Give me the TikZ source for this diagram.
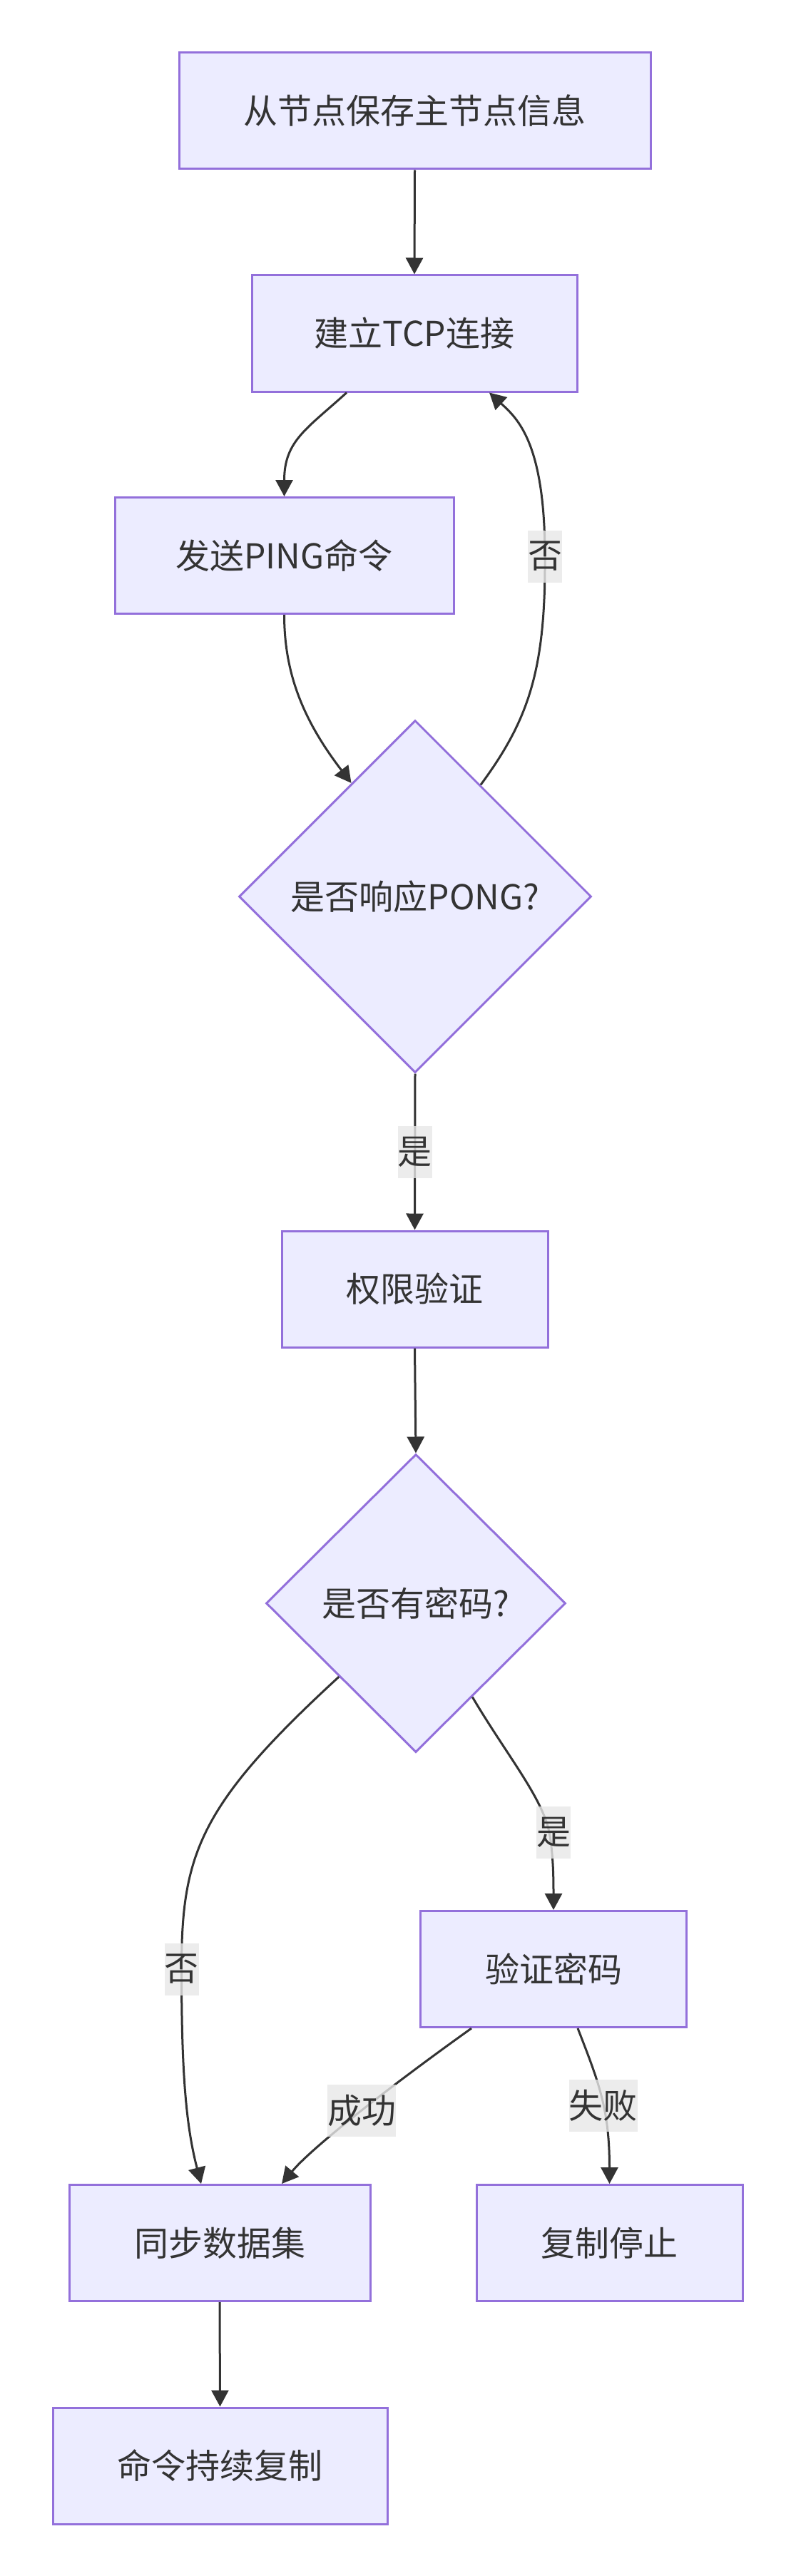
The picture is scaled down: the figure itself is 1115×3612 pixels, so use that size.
\documentclass[tikz,border=0pt]{standalone}
\usepackage{fontspec}
\setmainfont{Noto Sans CJK SC}
\usetikzlibrary{shapes.geometric,arrows.meta,calc}
\definecolor{nodefill}{HTML}{ECECFF}
\definecolor{nodeline}{HTML}{9370DB}
\definecolor{txt}{HTML}{333333}
\definecolor{lblbg}{HTML}{E8E8E8}
\begin{document}
\begin{tikzpicture}[x=0.5pt,y=-0.5pt,
  box/.style={rectangle, draw=nodeline, fill=nodefill, line width=1.5pt,
    minimum height=81.5pt, inner sep=0pt, text=txt,
    font=\fontsize{24pt}{36pt}\selectfont},
  dia/.style={diamond, draw=nodeline, fill=nodefill, line width=1.5pt,
    inner sep=0pt, text=txt, font=\fontsize{24pt}{36pt}\selectfont},
  arr/.style={draw=txt, line width=1.5pt, -{Triangle[width=12pt,length=11.5pt]}},
  elabel/.style={fill=lblbg, fill opacity=0.8, text opacity=1, text=txt,
    inner xsep=0pt, inner ysep=0pt, minimum height=36.5pt,
    font=\fontsize{24pt}{36pt}\selectfont}
]
\useasboundingbox[fill=white] (0,0) rectangle (1115,3612);

% nodes
\node[box, minimum width=330.5pt] (top) at (581.5,155.5) {从节点保存主节点信息};
\node[box, minimum width=228pt] (tcp) at (581,467.5) {建立TCP连接};
\node[box, minimum width=237.5pt] (ping) at (398.5,779) {发送PING命令};
\node[dia, minimum width=247pt, minimum height=247pt] (d1) at (582,1257) {是否响应PONG?};
\node[box, minimum width=186.5pt] (perm) at (581.5,1807.5) {权限验证};
\node[dia, minimum width=210pt, minimum height=209pt] (d2) at (583,2248) {是否有密码?};
\node[box, minimum width=186.5pt] (verify) at (776,2761) {验证密码};
\node[box, minimum width=211pt] (sync) at (308,3145) {同步数据集};
\node[box, minimum width=186.5pt] (stop) at (854.5,3145) {复制停止};
\node[box, minimum width=234.5pt] (cmd) at (308.5,3457.5) {命令持续复制};

% edge anchor points on diamonds and waypoints
\coordinate (d1a) at ($(d1.north)!0.36!(d1.west)$);
\coordinate (d1b) at ($(d1.north)!0.37!(d1.east)$);
\coordinate (d2a) at ($(d2.west)!0.49!(d2.south)$);
\coordinate (d2b) at ($(d2.south)!0.375!(d2.east)$);
\coordinate (w1) at (764,780);
\coordinate (w2) at (254.5,2761);
\coordinate (w3) at (770,2569);

% edges
\draw[arr] (top.south) -- (tcp.north);
\draw[arr] ($(tcp.south)+(-95,0)$) .. controls ($(tcp.south)+(-151,51)$) and ($(ping.north)+(0,-78)$) .. (ping.north);
\draw[arr] (ping.south) .. controls ($(ping.south)+(0,80)$) and ($(d1a)+(-69,-90)$) .. (d1a);
\draw[arr] (d1b) .. controls ($(d1b)+(67,-91)$) and ($(w1)+(1,160)$) .. (w1) node[elabel]{否}
  .. controls ($(w1)+(0,-160)$) and ($(tcp.south)+(144,36)$) .. ($(tcp.south)+(105,0)$);
\draw[arr] (d1.south) -- node[elabel]{是} (perm.north);
\draw[arr] (perm.south) -- (d2.north);
\draw[arr] (d2a) .. controls ($(d2a)+(-196,180)$) and ($(w2)+(0,-161)$) .. (w2) node[elabel]{否}
  .. controls ($(w2)+(0,139)$) and ($(sync.north)+(-48,-84)$) .. ($(sync.north)+(-26,0)$);
\draw[arr] (d2b) .. controls ($(d2b)+(48,81)$) and ($(w3)+(-10,-49)$) .. (w3) node[elabel, xshift=3pt]{是}
  .. controls ($(w3)+(6,31)$) and ($(verify.north)+(0,-39)$) .. (verify.north);
\draw[arr] ($(verify.south)+(-115,0)$) .. controls ($(verify.south)+(-216,72)$) and ($(sync.north)+(132,-54)$) .. ($(sync.north)+(87,0)$) node[elabel, pos=0.5]{成功};
\draw[arr] ($(verify.south)+(34,0)$) .. controls ($(verify.south)+(64,77)$) and ($(stop.north)+(0,-104)$) .. (stop.north) node[elabel, pos=0.55]{失败};
\draw[arr] (sync.south) -- (cmd.north);
\end{tikzpicture}
\end{document}
